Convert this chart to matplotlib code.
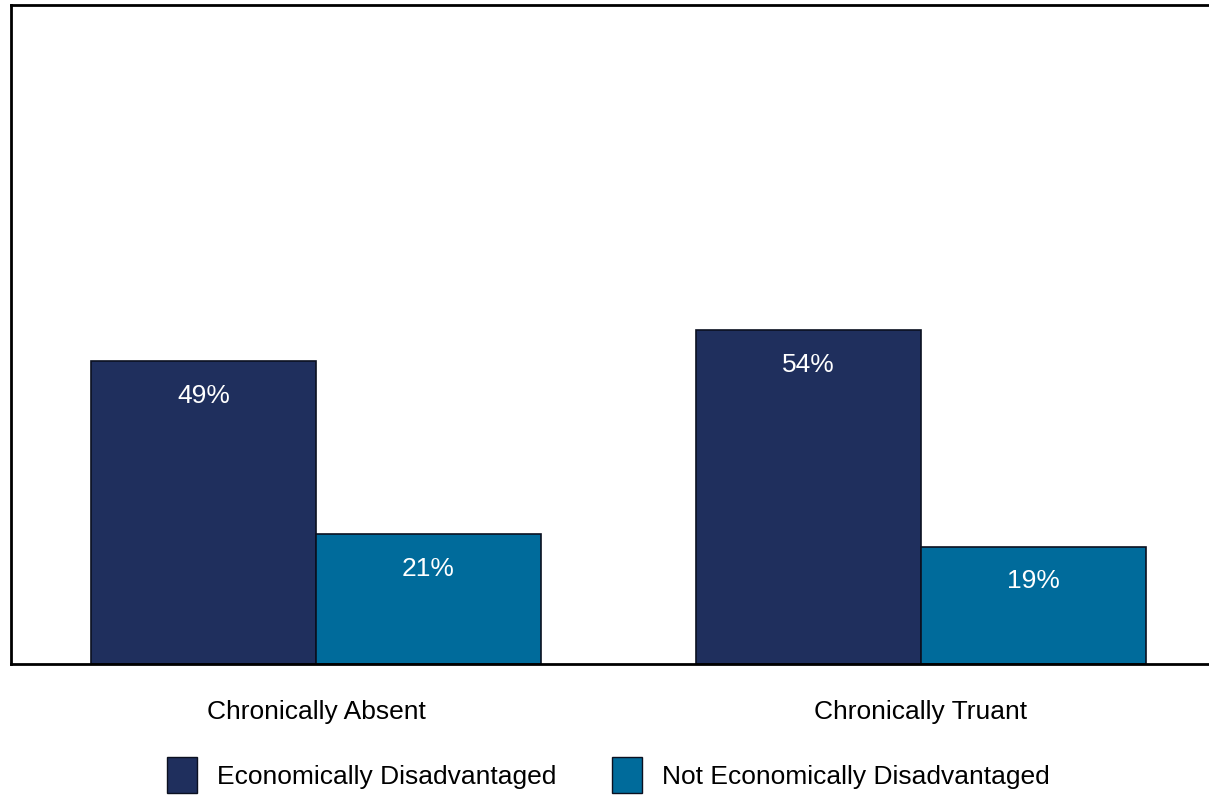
import matplotlib.pyplot as plt
import numpy as np
from matplotlib.patches import Patch

plt.rcParams['font.family'] = ['Liberation Sans', 'DejaVu Sans']

categories = ["Chronically Absent", "Chronically Truant"]
series_names = ["Economically Disadvantaged", "Not Economically Disadvantaged"]
disadvantaged = [49, 54]
not_disadvantaged = [21, 19]
colors = ["#1f2f5d", "#006b9b"]

fig = plt.figure(figsize=(12.09, 7.95), dpi=100)
ax = fig.add_axes([11 / 1209, 131 / 795, 1215 / 1209, 659 / 795])

x = np.arange(len(categories))
w = 0.372
for vals, off, c in [(disadvantaged, -w / 2, colors[0]), (not_disadvantaged, w / 2, colors[1])]:
    bars = ax.bar(x + off, vals, width=w, color=c, edgecolor="#0b1020", linewidth=1.2)
    for b, v in zip(bars, vals):
        ax.text(b.get_x() + b.get_width() / 2, v - 5.6, f"{v}%", ha="center", va="center",
                color="white", fontsize=19)

ax.set_xlim(-0.504, 1.504)
ax.set_ylim(0, 106.6)
ax.set_yticks([])
ax.set_xticks(x)
ax.set_xticklabels(categories, fontsize=19)
ax.tick_params(axis="x", length=0, pad=26)
for s in ax.spines.values():
    s.set_linewidth(2)
    s.set_color("black")

handles = [Patch(facecolor=c, edgecolor="#0b1020", linewidth=1) for c in colors]
fig.legend(handles, series_names, loc="center", bbox_to_anchor=(608 / 1209, 20 / 795),
           ncol=2, frameon=False, fontsize=19, handlelength=1.15, handleheight=1.7,
           handletextpad=0.75, columnspacing=2.1)

fig.savefig("out.png", dpi=100)
